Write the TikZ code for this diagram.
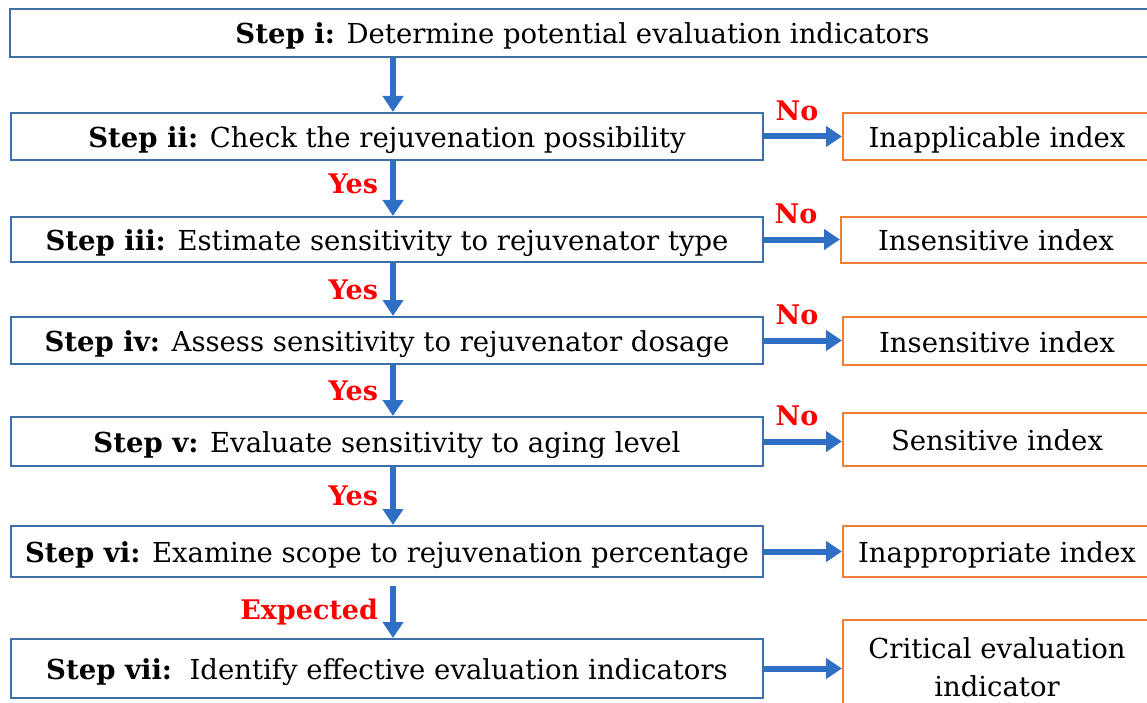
\documentclass[tikz,border=0pt]{standalone}
\usepackage{fontspec}
\setmainfont{DejaVu Serif}
\usetikzlibrary{arrows.meta}
\definecolor{boxblue}{HTML}{3B70A8}
\definecolor{arrblue}{HTML}{2F6FC6}
\definecolor{idxorange}{HTML}{F07F35}
\definecolor{lblred}{HTML}{FF0000}
\begin{document}
\begin{tikzpicture}[x=1pt,y=-1pt,
  txtfont/.style={font=\fontsize{27.5}{38}\selectfont},
  txt/.style={txtfont,text height=26pt,text depth=4pt},
  stepbox/.style={txt,draw=boxblue,line width=2pt,minimum width=752pt,inner sep=0pt,text=black},
  idxbase/.style={txtfont,draw=idxorange,line width=2pt,minimum width=308pt,inner sep=0pt,align=center,text=black},
  idxbox/.style={idxbase,text height=26pt,text depth=4pt},
  flow/.style={draw=arrblue,line width=6pt,-{Triangle[length=16pt,width=20pt]}},
  lbl/.style={text=lblred,inner sep=0pt,font=\bfseries\fontsize{27}{32}\selectfont},
]
\useasboundingbox (0,0) rectangle (1147,703);
\clip (0,0) rectangle (1147,703);
\fill[white] (0,0) rectangle (1147,703);

\node[stepbox,minimum width=1145pt,minimum height=48pt] (s1) at (582.5,33) {\textbf{Step i:} Determine potential evaluation indicators};
\node[stepbox,minimum height=47pt] (s2) at (387,136.5) {\textbf{Step ii:} Check the rejuvenation possibility};
\node[stepbox,minimum height=45pt] (s3) at (387,239.5) {\textbf{Step iii:} Estimate sensitivity to rejuvenator type};
\node[stepbox,minimum height=47pt] (s4) at (387,340.5) {\textbf{Step iv:} Assess sensitivity to rejuvenator dosage};
\node[stepbox,minimum height=49pt] (s5) at (387,441.5) {\textbf{Step v:} Evaluate sensitivity to aging level};
\node[stepbox,minimum height=51pt] (s6) at (387,551.5) {\textbf{Step vi:} Examine scope to rejuvenation percentage};
\node[stepbox,minimum height=59pt] (s7) at (387,668.5) {\textbf{Step vii:}\ \ Identify effective evaluation indicators};

\node[idxbox,minimum height=47pt] (i2) at (997,136.5) {Inapplicable index};
\node[idxbox,minimum height=46pt,minimum width=310pt] (i3) at (996,240) {Insensitive index};
\node[idxbox,minimum height=48pt] (i4) at (997,341) {Insensitive index};
\node[idxbox,minimum height=53pt] (i5) at (997,439.5) {Sensitive index};
\node[idxbox,minimum height=51pt] (i6) at (997,551.5) {Inappropriate index};
\node[idxbase,minimum height=94pt] (i7) at (997,667) {Critical evaluation\\indicator};

\draw[flow] ([xshift=6pt]s2.north |- s1.south) -- ([xshift=6pt]s2.north);
\draw[flow] ([xshift=6pt]s2.south) -- node[lbl,midway,left=12pt,yshift=5pt]{Yes} ([xshift=6pt]s3.north);
\draw[flow] ([xshift=6pt]s3.south) -- node[lbl,midway,left=12pt]{Yes} ([xshift=6pt]s4.north);
\draw[flow] ([xshift=6pt]s4.south) -- node[lbl,midway,left=12pt]{Yes} ([xshift=6pt]s5.north);
\draw[flow] ([xshift=6pt]s5.south) -- node[lbl,midway,left=12pt]{Yes} ([xshift=6pt]s6.north);
\draw[flow] ([xshift=6pt,yshift=-8pt]s6.south) -- node[lbl,midway,left=12pt]{Expected} ([xshift=6pt]s7.north);

\draw[flow] (s2.east) -- node[lbl,midway,above=13pt,xshift=-6pt]{No} (s2.east -| i2.west);
\draw[flow] (s3.east) -- node[lbl,midway,above=13pt,xshift=-6pt]{No} (s3.east -| i3.west);
\draw[flow] (s4.east) -- node[lbl,midway,above=13pt,xshift=-6pt]{No} (s4.east -| i4.west);
\draw[flow] (s5.east) -- node[lbl,midway,above=13pt,xshift=-6pt]{No} (s5.east -| i5.west);
\draw[flow] (s6.east) -- (s6.east -| i6.west);
\draw[flow] (s7.east) -- (s7.east -| i7.west);
\end{tikzpicture}
\end{document}
